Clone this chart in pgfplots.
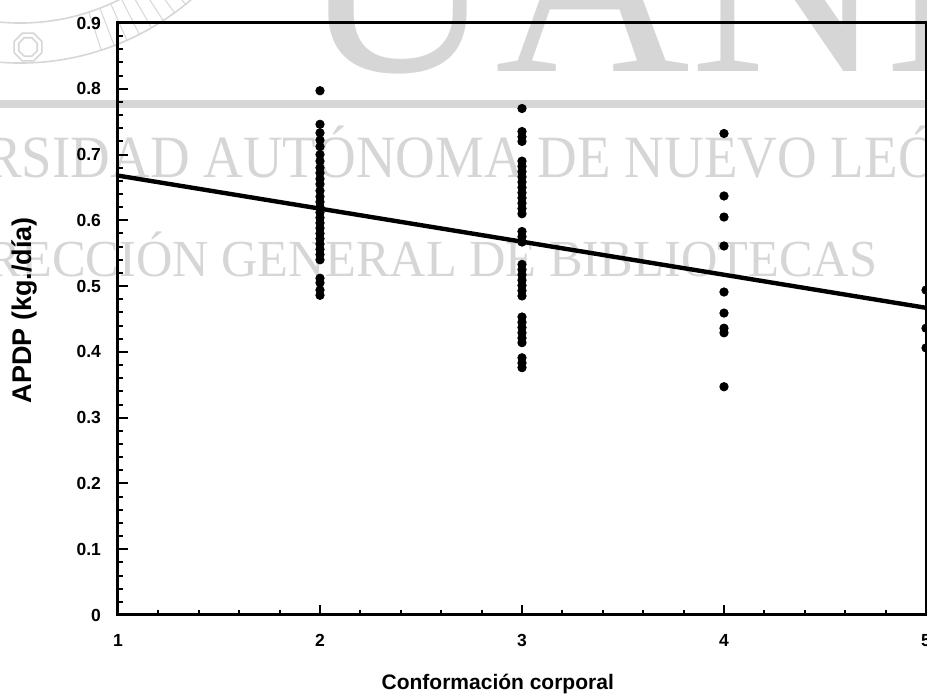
\documentclass[border=0pt]{standalone}
\usepackage{pgfplots}
\pgfplotsset{compat=1.18}
\usepackage{pgfplotstable}
\usepackage{fontspec}
\setmainfont{Liberation Sans}
\newfontfamily\wmfont{Liberation Serif}
\definecolor{wm}{RGB}{214,214,214}

\pgfplotstableread{
x y
2 0.797
2 0.746
2 0.733
2 0.722
2 0.712
2 0.700
2 0.690
2 0.680
2 0.672
2 0.663
2 0.655
2 0.645
2 0.636
2 0.628
2 0.620
2 0.612
2 0.604
2 0.596
2 0.588
2 0.580
2 0.572
2 0.564
2 0.556
2 0.548
2 0.540
2 0.512
2 0.505
2 0.494
2 0.486
3 0.770
3 0.735
3 0.727
3 0.720
3 0.690
3 0.682
3 0.674
3 0.666
3 0.658
3 0.650
3 0.642
3 0.634
3 0.626
3 0.618
3 0.610
3 0.583
3 0.575
3 0.567
3 0.533
3 0.525
3 0.517
3 0.509
3 0.501
3 0.493
3 0.485
3 0.453
3 0.445
3 0.437
3 0.429
3 0.421
3 0.414
3 0.391
3 0.383
3 0.376
4 0.732
4 0.637
4 0.605
4 0.561
4 0.491
4 0.459
4 0.436
4 0.429
4 0.347
5 0.494
5 0.436
5 0.406
}\pointsdata

\begin{document}
\begin{tikzpicture}
% watermark (behind the chart)
\begin{scope}[wm, line width=0.8pt]
  \draw (-49pt,407.5pt) ++(-150:131.5pt) arc[start angle=-150, end angle=-30, radius=131.5pt];
  \draw (-49pt,407.5pt) ++(-150:111.5pt) arc[start angle=-150, end angle=-30, radius=111.5pt];
  \foreach \a in {-72,-69,...,-36} {
    \draw[line width=0.5pt] (-49pt,407.5pt) ++(\a:111.5pt) -- ++(\a:20pt);
  }
  \draw (-45pt,284pt) +(22.5:7.5pt) -- +(67.5:7.5pt) -- +(112.5:7.5pt) -- +(157.5:7.5pt) -- +(202.5:7.5pt) -- +(247.5:7.5pt) -- +(292.5:7.5pt) -- +(337.5:7.5pt) -- cycle;
  \draw (-45pt,284pt) +(22.5:5pt) -- +(67.5:5pt) -- +(112.5:5pt) -- +(157.5:5pt) -- +(202.5:5pt) -- +(247.5:5pt) -- +(292.5:5pt) -- +(337.5:5pt) -- cycle;
\end{scope}
\fill[wm] (-59pt,253.5pt) rectangle (404.5pt,257.5pt);
\node[text=wm, anchor=base west, inner sep=0pt, font=\wmfont\fontsize{135}{140}\selectfont] at (91pt,271.5pt) {UANL};
\node[text=wm, anchor=base west, inner sep=0pt, xscale=0.916, font=\wmfont\fontsize{30}{32}\selectfont] at (-152pt,218.5pt) {UNIVERSIDAD AUTÓNOMA DE NUEVO LEÓN};
\node[text=wm, anchor=base west, inner sep=0pt, xscale=0.97, font=\wmfont\fontsize{26}{28}\selectfont] at (-92pt,169pt) {DIRECCIÓN GENERAL DE BIBLIOTECAS};

\begin{axis}[
  scale only axis, width=404pt, height=296pt,
  at={(0,0)}, anchor=south west,
  xmin=1, xmax=5, ymin=0, ymax=0.9,
  xtick={1,2,3,4,5},
  ytick={0,0.1,0.2,0.3,0.4,0.5,0.6,0.7,0.8,0.9},
  minor x tick num=4, minor y tick num=4,
  tick pos=left, tick align=inside,
  major tick length=5pt, minor tick length=2.5pt,
  every tick/.style={black, line width=1pt},
  axis line style={line width=1.5pt},
  /pgf/number format/assume math mode=true,
  /pgf/number format/fixed,
  ticklabel style={font=\bfseries\fontsize{8.75}{10}\selectfont},
  yticklabel style={xshift=-5pt},
  xticklabel style={yshift=-6pt},
  xlabel={\bfseries Conformación corporal},
  xlabel style={font=\fontsize{10.5}{12}\selectfont, at={(axis description cs:0.47,-0.1267)}, anchor=base},
  ylabel={\bfseries APDP (kg./día)},
  ylabel style={font=\fontsize{13.5}{15}\selectfont, at={(axis description cs:-0.1163,0.515)}, anchor=center},
  clip=false,
]
\addplot[black, line width=2.2pt, no marks] coordinates {(1,0.668) (5,0.467)};
\addplot[only marks, mark=*, mark size=2.1pt, black] table[x=x, y=y] {\pointsdata};
\end{axis}
\pgfresetboundingbox
\path[use as bounding box] (-59pt,-39.5pt) rectangle (404.5pt,307.5pt);
\end{tikzpicture}
\end{document}
